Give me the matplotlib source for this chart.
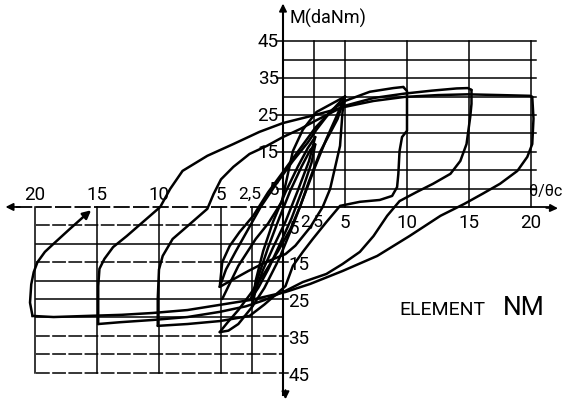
import matplotlib
matplotlib.use("Agg")
import matplotlib.pyplot as plt

plt.rcParams['font.family'] = ['Roboto', 'DejaVu Sans']

# ---------------- data (theta/theta_c , M in daNm) ----------------
GRID_X = [2.5, 5, 10, 15, 20]
GRID_Y = [5, 10, 15, 20, 25, 30, 35, 40, 45]
XTICK_VALUES = [2.5, 5, 10, 15, 20]
XTICK_LABELS = ["2,5", "5", "10", "15", "20"]
YTICK_VALUES = [5, 15, 25, 35, 45]
YTICK_LABELS = ["5", "15", "25", "35", "45"]

# outer branches
UP_M20_X = [-20.2, -20.4, -20.3, -20.1, -19.8, -19.2, -18.5, -17.2, -16.1, -15.3]
UP_M20_Y = [-29.6, -26.0, -21.0, -17.7, -15.0, -12.2, -10.0, -6.0, -2.7, -0.4]

UP_M15_X = [-14.9, -14.9, -14.8, -14.4, -13.7, -12.6, -11.3, -9.9, -9.1, -8.1, -6.1, -4.0,
            -1.9, 0.0, 2.6, 5.0, 7.3, 9.8, 12.5, 14.9, 17.5, 19.9, 20.1]
UP_M15_Y = [-31.8, -21.5, -16.8, -14.1, -10.9, -7.9, -4.1, 0.0, 4.9, 9.8, 13.9, 17.1,
            20.4, 22.8, 25.0, 27.2, 28.8, 29.9, 30.4, 30.6, 30.4, 30.2, 29.9]

UP_M10_X = [-10.1, -10.1, -10.0, -9.7, -8.9, -7.7, -6.1, -5.6, -5.0, -4.0, -2.7, -1.3,
            0.0, 1.4, 2.6, 5.0, 7.3, 9.8, 12.0, 14.0, 14.9, 15.2]
UP_M10_Y = [-32.3, -25.0, -17.0, -13.3, -8.7, -5.2, -0.5, 3.5, 7.5, 10.9, 14.4, 16.6,
            19.0, 21.2, 23.4, 27.5, 29.6, 30.8, 31.6, 32.2, 32.3, 31.8]

UP_M5_X = [-5.1, -4.9, -4.3, -3.5, -2.4, -1.2, 0.0, 1.3, 2.6, 4.0, 5.0, 7.0, 8.9, 9.7]
UP_M5_Y = [-21.7, -15.0, -10.6, -6.8, -2.4, 4.0, 9.5, 15.5, 21.5, 26.5, 28.8, 31.3, 32.3, 32.6]

DOWN_P10_X = [9.7, 10.0, 10.0, 9.6, 9.4, 9.3, 9.2, 8.8, 7.8, 6.2, 4.6, 3.5, 2.4, 1.6,
              0.8, 0.2, -1.5, -2.7, -5.1, -7.7, -10.1]
DOWN_P10_Y = [32.6, 31.5, 20.7, 19.0, 15.2, 8.9, 5.4, 3.0, 1.9, 1.4, 0.3, -4.1, -8.7, -12.2,
              -16.0, -21.5, -26.5, -29.6, -31.0, -31.8, -32.3]

DOWN_P15_X = [15.2, 15.2, 15.1, 14.8, 14.3, 13.5, 12.1, 10.8, 9.4, 8.4, 7.3, 6.2, 4.8, 3.5,
              1.6, 0.2, -1.5, -3.0, -5.1, -7.7, -10.5, -13.1, -14.9]
DOWN_P15_Y = [31.8, 28.0, 24.5, 17.1, 12.5, 9.0, 6.3, 4.1, 1.6, -2.4, -7.9, -12.2, -15.5, -18.2,
              -20.4, -22.8, -25.3, -27.0, -28.5, -29.9, -30.7, -31.3, -31.8]

DOWN_P20_X = [20.1, 20.2, 20.1, 19.7, 18.9, 17.5, 16.1, 14.6, 12.7, 10.2, 7.6, 4.8, 2.2, 0.2,
              -2.5, -5.1, -7.7, -10.5, -13.0, -15.8, -18.5, -20.2]
DOWN_P20_Y = [29.9, 24.0, 17.1, 13.6, 9.8, 6.3, 3.6, 0.8, -2.4, -7.9, -13.3, -17.4, -20.9, -23.1,
              -25.2, -26.6, -28.0, -28.8, -29.3, -29.6, -29.9, -29.6]

# inner cycles (+/-5 and +/-2.5)
DOWN_5A_X = [5.0, 4.8, 4.6, 3.8, 3.2, 2.2, 1.0, 0.2, -1.4, -2.8, -5.1]
DOWN_5A_Y = [30.0, 25.8, 16.6, 4.9, 0.0, -5.5, -10.5, -12.8, -15.0, -17.4, -21.7]
DOWN_5B_X = [5.0, 4.4, 3.0, 2.1, 1.4, 0.6, -0.4, -1.5, -2.6, -3.6, -4.5, -5.1]
DOWN_5B_Y = [30.0, 23.9, 15.0, 7.0, 0.3, -6.0, -12.0, -18.0, -23.5, -28.0, -31.5, -34.0]
DOWN_5C_X = [5.0, 2.7, 1.6, 0.8, -0.1, -1.2, -2.2, -3.6, -4.9]
DOWN_5C_Y = [30.0, 25.8, 21.0, 15.2, 1.4, -4.5, -8.7, -16.0, -25.0]
UP_5B_X = [-5.1, -4.4, -3.6, -2.5, -1.5, -0.3, 0.8, 1.7, 2.6, 3.5, 4.3, 5.0]
UP_5B_Y = [-34.0, -33.6, -31.8, -27.2, -22.0, -14.0, -5.0, 3.0, 11.0, 18.5, 24.5, 30.0]
UP_5A_X = [-5.1, -4.6, -3.8, -2.8, -1.8, -0.6, 0.8, 2.0, 2.7, 3.5, 4.3, 5.0]
UP_5A_Y = [-21.7, -17.0, -12.0, -6.0, 0.0, 6.0, 12.5, 17.5, 21.0, 24.5, 27.5, 30.0]
UP_25A_X = [-2.6, -2.0, -1.2, -0.3, 0.6, 1.5, 2.2, 2.6]
UP_25A_Y = [-25.0, -19.0, -11.0, -3.0, 4.5, 11.0, 15.5, 17.0]
DOWN_25A_X = [2.6, 2.3, 1.6, 0.7, -0.3, -1.2, -2.0, -2.6]
DOWN_25A_Y = [17.0, 12.0, 5.0, -3.0, -10.5, -17.0, -22.0, -25.0]
UP_25B_X = [-2.5, -2.2, -1.6, -0.8, 0.2, 1.2, 2.0, 2.6]
UP_25B_Y = [-27.0, -20.0, -12.0, -4.0, 4.0, 11.0, 16.0, 19.0]
DOWN_25B_X = [2.6, 2.1, 1.2, 0.2, -0.8, -1.6, -2.2, -2.5]
DOWN_25B_Y = [19.0, 12.5, 4.5, -4.0, -11.0, -17.0, -22.5, -27.0]

BRANCHES = [
    (UP_M15_X, UP_M15_Y), (UP_M10_X, UP_M10_Y), (UP_M5_X, UP_M5_Y),
    (DOWN_P10_X, DOWN_P10_Y), (DOWN_P15_X, DOWN_P15_Y), (DOWN_P20_X, DOWN_P20_Y),
    (DOWN_5A_X, DOWN_5A_Y), (DOWN_5B_X, DOWN_5B_Y), (DOWN_5C_X, DOWN_5C_Y),
    (UP_5A_X, UP_5A_Y), (UP_5B_X, UP_5B_Y),
    (UP_25A_X, UP_25A_Y), (DOWN_25A_X, DOWN_25A_Y),
    (UP_25B_X, UP_25B_Y), (DOWN_25B_X, DOWN_25B_Y),
]

# ---------------- figure ----------------
fig = plt.figure(figsize=(5.64, 4.06), dpi=100)
ax = fig.add_axes([0, 0, 1, 1])
ax.set_xlim(-22.82, 22.66)
ax.set_ylim(-53.8, 56.5)
ax.axis('off')

K = 'black'
# grid, upper right quadrant
for v in GRID_Y:
    ax.plot([0, 20.4], [v, v], color=K, lw=1.1)
for u in GRID_X:
    ax.plot([u, u], [0, 45], color=K, lw=1.1)
# grid, lower left quadrant
dashed = {5, 15, 35, 40, 45}
for v in GRID_Y:
    ls = (0, (9, 1.6)) if v in dashed else '-'
    ax.plot([-19.9, 0], [-v, -v], color=K, lw=1.1, ls=ls)
for u in GRID_X:
    ax.plot([-u, -u], [0, -45], color=K, lw=1.1)

# axes
ax.plot([-21.5, 0], [0, 0], color=K, lw=1.3, ls=(0, (9, 1.8)))
ax.plot([0, 21.6], [0, 0], color=K, lw=1.3)
ax.plot([0, 0], [-51.0, 54.5], color=K, lw=1.5)
arr = dict(arrowstyle='-|>', color=K, lw=1.3, mutation_scale=11)
ax.annotate('', xy=(-22.6, 0), xytext=(-21.0, 0), arrowprops=arr)
ax.annotate('', xy=(22.4, -0.4), xytext=(21.0, -0.2), arrowprops=arr)
ax.annotate('', xy=(0, 56.0), xytext=(0, 52.0), arrowprops=arr)
ax.annotate('', xy=(0.2, -53.0), xytext=(0.2, -49.0), arrowprops=arr)

# y tick dashes
for v in YTICK_VALUES:
    ax.plot([-0.5, 0], [v, v], color=K, lw=1.1)
    ax.plot([0, 0.4], [-v, -v], color=K, lw=1.1)

# tick labels
fs = 13.5
for v, s in zip(YTICK_VALUES, YTICK_LABELS):
    ax.text(-0.35, v, s, ha='right', va='center', fontsize=fs)
    ax.text(0.45, -v - 0.6, s, ha='left', va='center', fontsize=fs)
for v, s in zip(XTICK_VALUES, XTICK_LABELS):
    f = 12.5 if s == "2,5" else fs
    xl = -2.7 if s == "2,5" else -v
    ax.text(xl, 3.6, s, ha='center', va='center', fontsize=f)
    xr = 2.3 if s == "2,5" else v
    ax.text(xr, -4.0, s, ha='center', va='center', fontsize=f)

ax.text(0.55, 51.6, "M(daNm)", ha='left', va='center', fontsize=13)
ax.text(19.8, 4.4, "θ/θc", ha='left', va='center', fontsize=11.5)
ax.text(9.4, -29.0, "ELEMENT", ha='left', va='baseline', fontsize=14)
ax.text(17.7, -29.0, "NM", ha='left', va='baseline', fontsize=19)

# hysteresis curves
for bx, by in BRANCHES:
    ax.plot(bx, by, color=K, lw=1.8, solid_joinstyle='round', solid_capstyle='round')
ax.plot(UP_M20_X[:-1], UP_M20_Y[:-1], color=K, lw=1.8, solid_joinstyle='round')
ax.annotate('', xy=(UP_M20_X[-1], UP_M20_Y[-1]), xytext=(UP_M20_X[-2], UP_M20_Y[-2]),
            arrowprops=dict(arrowstyle='-|>', color=K, lw=1.8, mutation_scale=12))

fig.savefig("out.png", dpi=100)
